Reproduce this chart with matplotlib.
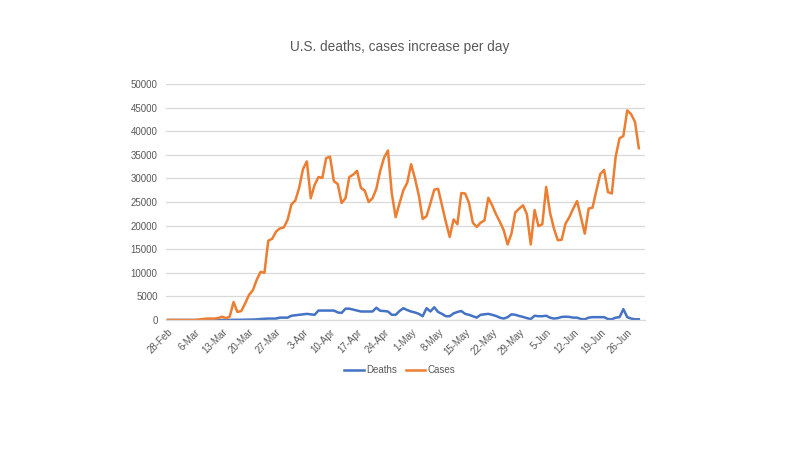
import matplotlib
matplotlib.use("Agg")
import matplotlib.pyplot as plt
import matplotlib.dates as mdates
import numpy as np
import datetime as dt

plt.rcParams['font.family'] = ['Liberation Sans', 'DejaVu Sans']

start_date = dt.date(2020, 2, 28)

cases = [0, 0, 0, 0, 0, 0, 0, 0, 100, 200,
         300, 300, 300, 400, 700, 400, 700, 3800, 1700, 1900,
         3500, 5300, 6300, 8500, 10200, 10000, 16800, 17200, 18700, 19400,
         19600, 21200, 24500, 25300, 28000, 32000, 33600, 25800, 28600, 30300,
         30100, 34300, 34600, 29400, 28800, 24800, 25800, 30300, 30800, 31600,
         28000, 27400, 25000, 25800, 27800, 31600, 34400, 35900, 26800, 21800,
         24700, 27500, 29100, 33000, 30000, 26400, 21400, 22000, 24700, 27600,
         27800, 24300, 20800, 17600, 21300, 20300, 26900, 26800, 24800, 20600,
         19700, 20600, 21100, 25900, 24300, 22400, 20800, 19000, 16000, 18300,
         22800, 23600, 24300, 22400, 16000, 23300, 19900, 20300, 28200, 22700,
         19400, 16900, 17000, 20400, 21800, 23600, 25200, 21800, 18300, 23600,
         23800, 27400, 30900, 31800, 27100, 26800, 34600, 38500, 39000, 44400,
         43600, 42000, 36400]

deaths = [0, 0, 0, 0, 0, 0, 0, 0, 0, 0,
          0, 0, 0, 0, 10, 10, 20, 30, 40, 50,
          60, 80, 100, 120, 200, 250, 300, 300, 300, 500,
          500, 500, 900, 1000, 1100, 1200, 1300, 1200, 1100, 2000,
          2000, 2000, 2000, 2000, 1600, 1500, 2400, 2400, 2200, 2000,
          1800, 1800, 1800, 1800, 2600, 1950, 1900, 1800, 1100, 1100,
          1900, 2500, 2100, 1800, 1600, 1300, 800, 2500, 1800, 2700,
          1700, 1300, 800, 800, 1400, 1700, 1900, 1300, 1100, 800,
          500, 1100, 1200, 1300, 1100, 850, 500, 300, 600, 1200,
          1100, 850, 650, 400, 200, 900, 800, 800, 900, 500,
          300, 400, 650, 700, 650, 500, 500, 200, 150, 500,
          600, 600, 600, 600, 200, 150, 500, 600, 2300, 600,
          300, 150, 150]

dates = [start_date + dt.timedelta(days=i) for i in range(len(cases))]
tick_dates = [start_date + dt.timedelta(days=7 * k) for k in range(18)]
yticks = list(range(0, 50001, 5000))

blue = '#4472C4'
orange = '#ED7D31'
grid = '#D9D9D9'
text_c = '#595959'

fig = plt.figure(figsize=(8, 4.5), dpi=100)
ax = fig.add_axes([166/800, 1 - 320/450, (645 - 166)/800, (320 - 84)/450])

ax.plot(dates, deaths, color=blue, lw=1.8, label='Deaths', solid_joinstyle='round')
ax.plot(dates, cases, color=orange, lw=1.8, label='Cases', solid_joinstyle='round')

ax.set_ylim(0, 50000)
ax.set_yticks(yticks)
ax.set_yticklabels([str(v) for v in yticks])
ax.set_xlim(mdates.date2num(start_date) - 0.5, mdates.date2num(start_date) + 123.6)
ax.set_xticks([mdates.date2num(d) for d in tick_dates])
ax.set_xticklabels([f"{d.day}-{d.strftime('%b')}" for d in tick_dates],
                   rotation=45, ha='right', rotation_mode='anchor')

ax.grid(axis='y', color=grid, lw=0.9)
ax.set_axisbelow(True)
for s in ['top', 'right', 'left']:
    ax.spines[s].set_visible(False)
ax.spines['bottom'].set_color(grid)
ax.spines['bottom'].set_linewidth(0.9)
ax.tick_params(axis='both', length=0, colors=text_c, labelsize=7)
ax.tick_params(axis='y', pad=6)
ax.tick_params(axis='x', pad=5)

fig.text(0.5, 1 - 47/450, 'U.S. deaths, cases increase per day', ha='center', va='center',
         fontsize=9.8, color=text_c)

fig.legend(loc='center', bbox_to_anchor=(0.5, 1 - 370/450), ncol=2, frameon=False,
           fontsize=7, labelcolor=text_c, handlelength=2.0, columnspacing=0.9, handletextpad=0.25)

fig.savefig('out.png', dpi=100, facecolor='white')
